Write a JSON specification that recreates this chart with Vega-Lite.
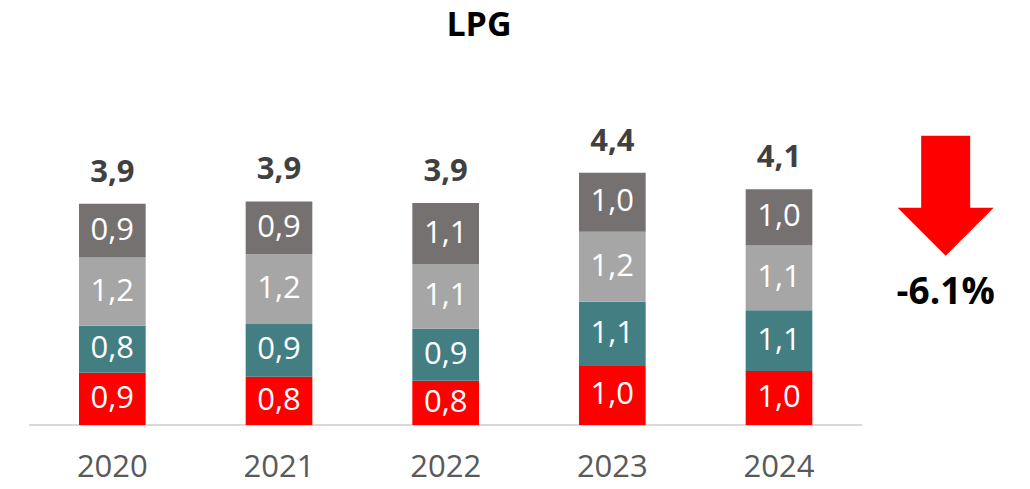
{
  "$schema": "https://vega.github.io/schema/vega-lite/v6.json",
  "width": 1000,
  "height": 344,
  "autosize": {"type": "none"},
  "padding": {"left": 29, "top": 81, "right": 1, "bottom": 64},
  "background": "white",
  "config": {"view": {"stroke": null}, "font": "Open Sans"},
  "title": {"text": "LPG", "fontSize": 34, "fontWeight": "bold", "font": "Open Sans", "color": "#000000", "anchor": "middle", "dx": -50, "offset": 38},
  "datasets": {
    "segments": [
      {"year": "2020", "serie": "S1", "ord": 1, "value": 0.91, "label": "0,9"},
      {"year": "2020", "serie": "S2", "ord": 2, "value": 0.82, "label": "0,8"},
      {"year": "2020", "serie": "S3", "ord": 3, "value": 1.19, "label": "1,2"},
      {"year": "2020", "serie": "S4", "ord": 4, "value": 0.94, "label": "0,9"},
      {"year": "2021", "serie": "S1", "ord": 1, "value": 0.84, "label": "0,8"},
      {"year": "2021", "serie": "S2", "ord": 2, "value": 0.92, "label": "0,9"},
      {"year": "2021", "serie": "S3", "ord": 3, "value": 1.22, "label": "1,2"},
      {"year": "2021", "serie": "S4", "ord": 4, "value": 0.92, "label": "0,9"},
      {"year": "2022", "serie": "S1", "ord": 1, "value": 0.77, "label": "0,8"},
      {"year": "2022", "serie": "S2", "ord": 2, "value": 0.91, "label": "0,9"},
      {"year": "2022", "serie": "S3", "ord": 3, "value": 1.13, "label": "1,1"},
      {"year": "2022", "serie": "S4", "ord": 4, "value": 1.06, "label": "1,1"},
      {"year": "2023", "serie": "S1", "ord": 1, "value": 1.03, "label": "1,0"},
      {"year": "2023", "serie": "S2", "ord": 2, "value": 1.12, "label": "1,1"},
      {"year": "2023", "serie": "S3", "ord": 3, "value": 1.22, "label": "1,2"},
      {"year": "2023", "serie": "S4", "ord": 4, "value": 1.03, "label": "1,0"},
      {"year": "2024", "serie": "S1", "ord": 1, "value": 0.94, "label": "1,0"},
      {"year": "2024", "serie": "S2", "ord": 2, "value": 1.06, "label": "1,1"},
      {"year": "2024", "serie": "S3", "ord": 3, "value": 1.13, "label": "1,1"},
      {"year": "2024", "serie": "S4", "ord": 4, "value": 0.98, "label": "1,0"}
    ],
    "totals": [
      {"year": "2020", "total": 3.86, "label": "3,9"},
      {"year": "2021", "total": 3.90, "label": "3,9"},
      {"year": "2022", "total": 3.87, "label": "3,9"},
      {"year": "2023", "total": 4.40, "label": "4,4"},
      {"year": "2024", "total": 4.11, "label": "4,1"}
    ],
    "baseline": [
      {"from": "2020", "to": "2024", "level": 0}
    ],
    "change": [
      {"year": "Δ", "label": "-6.1%"}
    ]
  },
  "layer": [
    {
      "data": {"name": "baseline"},
      "mark": {"type": "rule", "color": "#d9d9d9", "strokeWidth": 2, "xOffset": -83.3, "x2Offset": 83.3},
      "encoding": {
        "x": {
          "field": "from",
          "type": "nominal",
          "scale": {"domain": ["2020", "2021", "2022", "2023", "2024", "Δ"], "paddingInner": 0.6, "paddingOuter": 0.3},
          "axis": {"values": ["2020", "2021", "2022", "2023", "2024"], "title": null, "domain": false, "ticks": false, "labelAngle": 0, "labelFontSize": 31, "labelFont": "Open Sans", "labelColor": "#595959", "labelPadding": 27}
        },
        "x2": {"field": "to"},
        "y": {"field": "level", "type": "quantitative", "scale": {"domain": [0, 6]}, "axis": null}
      }
    },
    {
      "data": {"name": "segments"},
      "mark": {"type": "bar"},
      "encoding": {
        "x": {"field": "year", "type": "nominal"},
        "y": {"field": "value", "type": "quantitative", "stack": "zero"},
        "color": {"field": "serie", "type": "nominal", "scale": {"domain": ["S1", "S2", "S3", "S4"], "range": ["#ff0000", "#427e82", "#a6a6a6", "#767171"]}, "legend": null},
        "order": {"field": "ord", "type": "quantitative"}
      }
    },
    {
      "data": {"name": "segments"},
      "mark": {"type": "text", "color": "white", "fontSize": 31, "font": "Open Sans", "baseline": "middle", "align": "center"},
      "encoding": {
        "x": {"field": "year", "type": "nominal"},
        "y": {"field": "value", "type": "quantitative", "stack": "zero", "bandPosition": 0.5},
        "detail": {"field": "serie", "type": "nominal"},
        "order": {"field": "ord", "type": "quantitative"},
        "text": {"field": "label", "type": "nominal"}
      }
    },
    {
      "data": {"name": "totals"},
      "mark": {"type": "text", "color": "#404040", "fontSize": 31, "fontWeight": "bold", "font": "Open Sans", "baseline": "alphabetic", "align": "center", "dy": -22},
      "encoding": {
        "x": {"field": "year", "type": "nominal"},
        "y": {"field": "total", "type": "quantitative"},
        "text": {"field": "label", "type": "nominal"}
      }
    },
    {
      "data": {"name": "change"},
      "mark": {"type": "point", "shape": "M-0.408,-1 L0.408,-1 L0.408,0.2 L0.8,0.2 L0,1 L-0.8,0.2 L-0.408,0.2 Z", "size": 14400, "filled": true, "fill": "#ff0000", "opacity": 1, "strokeWidth": 0},
      "encoding": {
        "x": {"field": "year", "type": "nominal"},
        "y": {"datum": 4.0, "type": "quantitative"}
      }
    },
    {
      "data": {"name": "change"},
      "mark": {"type": "text", "color": "#000000", "fontSize": 37, "fontWeight": "bold", "font": "Open Sans", "baseline": "middle", "align": "center"},
      "encoding": {
        "x": {"field": "year", "type": "nominal"},
        "y": {"datum": 2.31, "type": "quantitative"},
        "text": {"field": "label", "type": "nominal"}
      }
    }
  ]
}
